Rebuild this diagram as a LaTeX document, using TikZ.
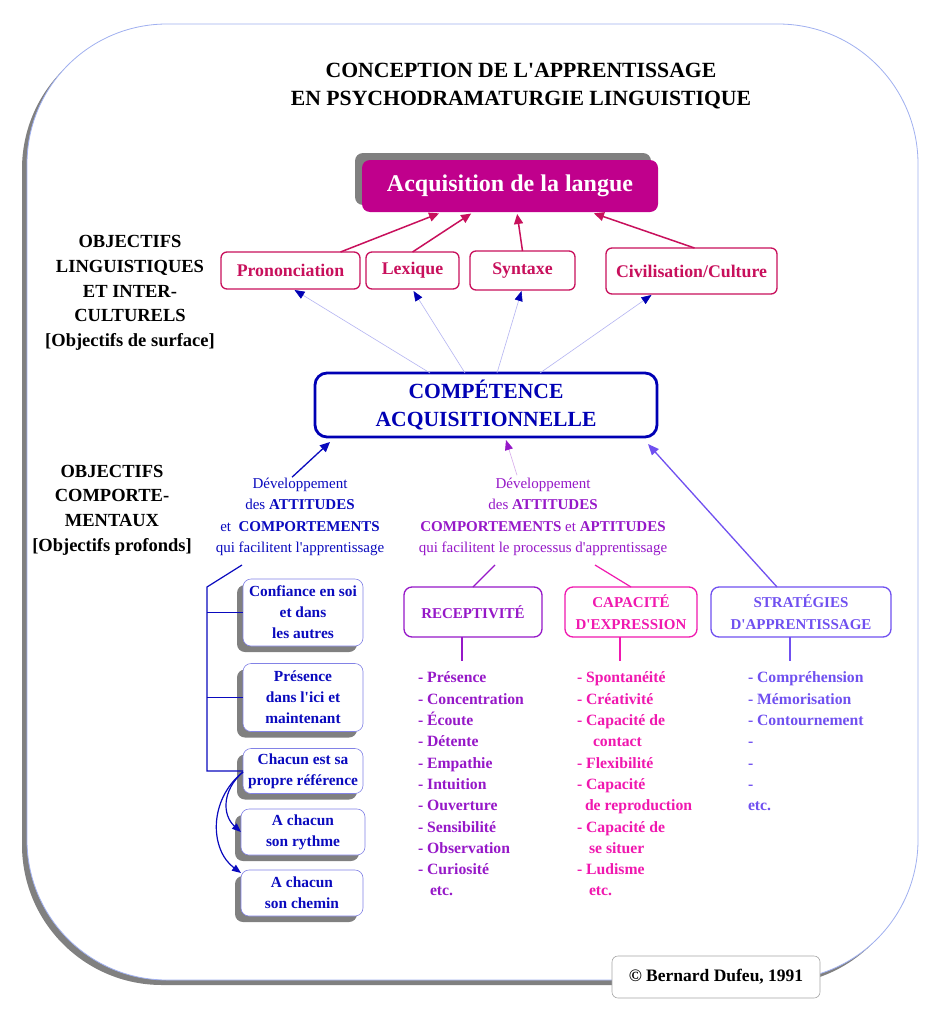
\documentclass[tikz,border=0pt]{standalone}
\usepackage{fontspec}
\defaultfontfeatures[\rmfamily]{}
\setmainfont{Liberation Serif}
\usetikzlibrary{arrows.meta,shadows}
\definecolor{dblue}{RGB}{10,10,190}
\definecolor{compblue}{RGB}{0,0,180}
\definecolor{magfill}{RGB}{192,0,140}
\definecolor{crim}{RGB}{200,16,92}
\definecolor{purp}{RGB}{150,24,200}
\definecolor{lpurp}{RGB}{215,170,235}
\definecolor{hpink}{RGB}{240,24,175}
\definecolor{viol}{RGB}{112,80,240}
\definecolor{lblue}{RGB}{180,180,242}
\definecolor{frameblue}{RGB}{160,176,240}
\definecolor{shadowgray}{RGB}{128,128,128}
\definecolor{boxline}{RGB}{130,130,230}
\begin{document}
\begin{tikzpicture}[x=1pt,y=-1pt,
  every node/.style={inner sep=0pt,outer sep=0pt},
  topbox/.style={draw=crim,line width=1.3pt,rounded corners=6pt,fill=white,text=crim,
    font=\bfseries\fontsize{17.8}{20}\selectfont},
  lbox/.style={draw=boxline,line width=0.6pt,fill=white,rounded corners=8pt,text=dblue,
    align=center,minimum width=120pt,font=\bfseries\fontsize{15.4}{21}\selectfont,
    general shadow={fill=shadowgray,shadow xshift=-6pt,shadow yshift=-6pt}},
  headbox/.style={line width=1.3pt,rounded corners=8pt,fill=white,align=center,
    minimum height=50pt,font=\bfseries\fontsize{15}{22}\selectfont},
  itemlist/.style={anchor=north west,align=left,font=\bfseries\fontsize{15.7}{21.3}\selectfont},
  sidelabel/.style={align=center,font=\bfseries\fontsize{18.5}{24.6}\selectfont},
  dev/.style={align=center,font=\fontsize{15}{21.3}\selectfont},
  crimarrow/.style={crim,line width=1.5pt,-{Triangle[length=10pt,width=9pt]}},
  thinarrow/.style={lblue,line width=0.6pt,-{Triangle[length=10pt,width=8pt,color=compblue]}},
]
\useasboundingbox (0,0) rectangle (945,1025);
% outer frame
\fill[shadowgray,rounded corners=140pt] (22,29) rectangle (913,985);
\draw[frameblue,line width=0.8pt,fill=white,rounded corners=140pt] (27,24) rectangle (918,980);

% title
\node[align=center,font=\bfseries\fontsize{21.7}{28}\selectfont] (title) at (521,86)
  {CONCEPTION DE L'APPRENTISSAGE\\EN PSYCHODRAMATURGIE LINGUISTIQUE};

% acquisition
\node[fill=magfill,rounded corners=8pt,minimum width=296pt,minimum height=52pt,text=white,
  font=\bfseries\fontsize{24}{28}\selectfont,
  general shadow={fill=shadowgray,shadow xshift=-7pt,shadow yshift=7pt}] (acq) at (510,186)
  {Acquisition de la langue};

% top boxes
\node[topbox,minimum width=139pt,minimum height=37pt] (pron) at (290.5,270.5) {Prononciation};
\node[topbox,minimum width=93pt,minimum height=37pt] (lex) at (412.5,270.5) {Lexique};
\node[topbox,minimum width=105pt,minimum height=39pt] (syn) at (522.5,270.5) {Syntaxe};
\node[topbox,minimum width=171pt,minimum height=46pt] (civ) at (691.5,271) {Civilisation/Culture};

% competence
\node[draw=compblue,line width=2.8pt,rounded corners=12pt,fill=white,minimum width=342pt,
  minimum height=64pt,text=compblue,align=center,font=\bfseries\fontsize{21.6}{28}\selectfont]
  (comp) at (486,405) {COMPÉTENCE\\ACQUISITIONNELLE};

% left labels
\node[sidelabel] (lab1) at (130,293) {OBJECTIFS\\LINGUISTIQUES\\ET INTER-\\CULTURELS\\{}{[}Objectifs de surface{]}};
\node[sidelabel] (lab2) at (112,510) {OBJECTIFS\\COMPORTE-\\MENTAUX\\{}{[}Objectifs profonds{]}};

% development texts
\node[dev,text=dblue] (devA) at (300,517)
  {Développement\\des \textbf{ATTITUDES}\\et\ \ \textbf{COMPORTEMENTS}\\qui facilitent l'apprentissage};
\node[dev,text=purp] (devB) at (543,517)
  {Développement\\des \textbf{ATTITUDES}\\\textbf{COMPORTEMENTS} et \textbf{APTITUDES}\\qui facilitent le processus d'apprentissage};

% head boxes
\node[headbox,draw=purp,text=purp,minimum width=138pt] (rec) at (473,612) {RECEPTIVITÉ};
\node[headbox,draw=hpink,text=hpink,minimum width=132pt] (cap) at (631,612) {CAPACITÉ\\D'EXPRESSION};
\node[headbox,draw=viol,text=viol,minimum width=180pt] (strat) at (801,612) {STRATÉGIES\\D'APPRENTISSAGE};

% left boxes
\node[lbox,minimum height=67pt] (conf) at (303,612.5) {Confiance en soi\\et dans\\les autres};
\node[lbox,minimum height=68pt] (pres) at (303,697.5) {Présence\\dans l'ici et\\maintenant};
\node[lbox,minimum height=45pt] (chac) at (303,771) {Chacun est sa\\propre référence};
\node[lbox,minimum width=124pt,minimum height=46pt] (ryth) at (303,832) {A chacun\\son rythme};
\node[lbox,minimum width=122pt,minimum height=46pt] (chem) at (302,893) {A chacun\\son chemin};

% lists
\node[itemlist,text=purp] (listR) at (418,668)
  {\strut- Présence\\- Concentration\\- Écoute\\- Détente\\- Empathie\\- Intuition\\- Ouverture\\- Sensibilité\\- Observation\\- Curiosité\\\hspace*{12pt}etc.};
\node[itemlist,text=hpink] (listC) at (577,668)
  {\strut- Spontanéité\\- Créativité\\- Capacité de\\\hspace*{16pt}contact\\- Flexibilité\\- Capacité\\\hspace*{8pt}de reproduction\\- Capacité de\\\hspace*{12pt}se situer\\- Ludisme\\\hspace*{12pt}etc.};
\node[itemlist,text=viol] (listS) at (748,668)
  {\strut- Compréhension\\- Mémorisation\\- Contournement\\-\\-\\-\\etc.};

% copyright
\node[draw=gray!70,line width=0.6pt,rounded corners=6pt,fill=white,minimum width=208pt,
  minimum height=42pt,font=\bfseries\fontsize{17.5}{20}\selectfont] (copy) at (716,977)
  {© Bernard Dufeu, 1991};

% arrows to acquisition
\draw[crimarrow,shorten >=1pt] ([xshift=50pt]pron.north) -- ([xshift=-70pt,yshift=-1pt]acq.south);
\draw[crimarrow,shorten >=1pt] (lex.north) -- ([xshift=-38pt,yshift=-1pt]acq.south);
\draw[crimarrow,shorten >=1pt] (syn.north) -- ([xshift=7pt,yshift=-1pt]acq.south);
\draw[crimarrow,shorten >=1pt] ([xshift=3pt]civ.north) -- ([xshift=83pt,yshift=-1pt]acq.south);

% arrows from competence to top boxes
\draw[thinarrow] ([xshift=-56pt]comp.north) -- ([xshift=4pt,yshift=-1pt]pron.south);
\draw[thinarrow] ([xshift=-21pt]comp.north) -- ([xshift=1pt,yshift=-2pt]lex.south);
\draw[thinarrow] ([xshift=11pt]comp.north) -- ([xshift=-1pt,yshift=-1pt]syn.south);
\draw[thinarrow] ([xshift=54pt]comp.north) -- ([xshift=-40pt,yshift=-1pt]civ.south);

% arrows to competence
\draw[dblue,line width=1.3pt,-{Triangle[length=10pt,width=9pt]}] ([xshift=-8pt,yshift=1pt]devA.north) -- ([xshift=15pt,yshift=-5pt]comp.south west);
\draw[lpurp,line width=0.6pt,-{Triangle[length=10pt,width=8pt,color=purp]}] ([xshift=-26pt,yshift=3pt]devB.north) -- ([xshift=20pt,yshift=-3pt]comp.south);
\draw[viol,line width=1.3pt,-{Triangle[length=11pt,width=9pt]}] ([xshift=-24pt]strat.north) -- ([xshift=-9pt,yshift=-7pt]comp.south east);

% connections to head boxes
\coordinate (dR) at (495,565);
\coordinate (dC) at (595,565);
\draw[purp,line width=1.2pt] (dR) -- (rec.north);
\draw[hpink,line width=1.2pt] (dC) -- (cap.north);
\coordinate (rS) at (462,661);
\coordinate (cS) at (620,661);
\coordinate (sS) at (790,661);
\draw[purp,line width=1.3pt] (rec.south -| rS) -- (rS);
\draw[hpink,line width=1.3pt] (cap.south -| cS) -- (cS);
\draw[viol,line width=1.3pt] (strat.south -| sS) -- (sS);

% left tree
\coordinate (tD) at (242,565);
\coordinate (tT) at (207,587);
\draw[dblue,line width=1.2pt] (tD) -- (tT) -- (tT |- chac.west) -- (chac.west);
\draw[dblue,line width=1.2pt] (tT |- conf.west) -- (conf.west);
\draw[dblue,line width=1.2pt] (tT |- pres.west) -- (pres.west);
\draw[dblue,line width=1.2pt,-{Triangle[length=9pt,width=7pt]}] ([yshift=-1pt]chac.west) .. controls (222,790) and (222,815) .. (ryth.west);
\draw[dblue,line width=1.2pt,-{Triangle[length=9pt,width=7pt]}] ([yshift=-1pt]chac.west) .. controls (208,800) and (210,850) .. ([yshift=-3pt]chem.north west);
\end{tikzpicture}
\end{document}
